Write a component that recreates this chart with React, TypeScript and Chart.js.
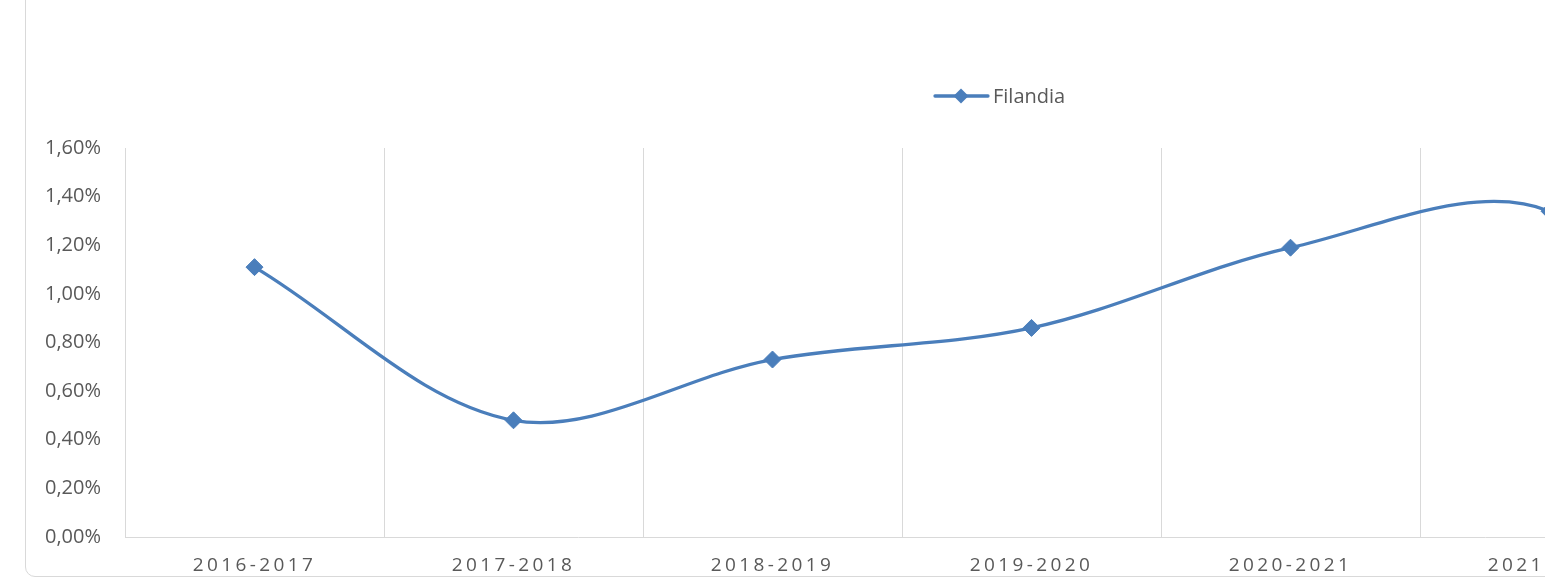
import React, { useEffect, useRef } from 'react';
import { Chart, registerables } from 'chart.js';

Chart.register(...registerables);

// ---- data ----
const categories = ['2016-2017', '2017-2018', '2018-2019', '2019-2020', '2020-2021', '2021-2022', '2022-2023'];
const seriesName = 'Filandia';
const seriesValues = [1.11, 0.48, 0.73, 0.86, 1.19, 1.34, 0.32];
const yTickValues = [0, 0.2, 0.4, 0.6, 0.8, 1.0, 1.2, 1.4, 1.6];

// ---- style ----
const FONT = "'Open Sans', 'Noto Sans', sans-serif";
const TEXT = '#595959';
const GRID = '#d9d9d9';
const LINE = '#4a7ebb';

const CANVAS_W = 1950;
const CANVAS_H = 605;

const fmtPct = (v: number) => v.toFixed(2).replace('.', ',') + '%';

const xLabelPlugin = {
  id: 'xLabels',
  afterDraw(chart: any) {
    const ctx = chart.ctx as CanvasRenderingContext2D;
    const xs = chart.scales.x;
    ctx.save();
    ctx.font = `19px ${FONT}`;
    ctx.fillStyle = TEXT;
    ctx.textAlign = 'center';
    ctx.textBaseline = 'alphabetic';
    (ctx as any).letterSpacing = '3.4px';
    categories.forEach((c, i) => {
      ctx.fillText(c, xs.getPixelForValue(i), chart.chartArea.bottom + 34);
    });
    ctx.restore();
  },
};

const legendPlugin = {
  id: 'customLegend',
  afterDraw(chart: any) {
    const ctx = chart.ctx as CanvasRenderingContext2D;
    const y = 125;
    ctx.save();
    ctx.strokeStyle = LINE;
    ctx.lineWidth = 3.3;
    ctx.lineCap = 'round';
    ctx.beginPath();
    ctx.moveTo(909, y);
    ctx.lineTo(962, y);
    ctx.stroke();
    const cx = 935;
    const r = 7.5;
    ctx.fillStyle = LINE;
    ctx.beginPath();
    ctx.moveTo(cx, y - r);
    ctx.lineTo(cx + r, y);
    ctx.lineTo(cx, y + r);
    ctx.lineTo(cx - r, y);
    ctx.closePath();
    ctx.fill();
    ctx.font = `20px ${FONT}`;
    ctx.fillStyle = TEXT;
    ctx.textAlign = 'left';
    ctx.textBaseline = 'alphabetic';
    ctx.fillText(seriesName, 967, 132);
    ctx.restore();
  },
};

export default function App() {
  const ref = useRef<HTMLCanvasElement>(null);

  useEffect(() => {
    if (!ref.current) return;
    const chart = new Chart(ref.current, {
      type: 'line',
      data: {
        labels: categories,
        datasets: [
          {
            label: seriesName,
            data: seriesValues,
            borderColor: LINE,
            backgroundColor: LINE,
            borderWidth: 3.3,
            tension: 0.34,
            pointStyle: 'rectRot',
            pointRadius: 8.5,
            pointBorderWidth: 1,
            pointBackgroundColor: LINE,
            pointBorderColor: LINE,
            fill: false,
          },
        ],
      },
      options: {
        animation: false,
        responsive: false,
        devicePixelRatio: 1,
        layout: { padding: { left: 0, top: 177, right: 38, bottom: 0 } },
        plugins: {
          legend: { display: false },
          title: { display: false },
          tooltip: { enabled: false },
        },
        scales: {
          x: {
            type: 'category',
            offset: true,
            grid: { display: true, offset: true, color: GRID, lineWidth: 1, drawTicks: false },
            border: { display: true, color: GRID, width: 1 },
            ticks: { display: false },
            afterFit(scale: any) {
              scale.height = 39;
            },
          },
          y: {
            min: 0,
            max: 1.6,
            grid: { display: false, drawTicks: false },
            border: { display: false },
            afterBuildTicks(scale: any) {
              scale.ticks = yTickValues.map((v) => ({ value: v }));
            },
            ticks: {
              padding: 24,
              color: TEXT,
              font: { family: FONT, size: 20 },
              callback: (v: any) => fmtPct(Number(v)),
            },
            afterFit(scale: any) {
              scale.width = 99;
            },
          },
        },
      },
      plugins: [xLabelPlugin, legendPlugin],
    });
    return () => chart.destroy();
  }, []);

  return (
    <div
      style={{
        position: 'fixed',
        left: 0,
        top: 0,
        width: 1545,
        height: 578,
        overflow: 'hidden',
        background: '#ffffff',
      }}
    >
      <div
        style={{
          position: 'absolute',
          left: 25,
          top: -30,
          width: 1952,
          height: 607,
          border: `1px solid ${GRID}`,
          borderRadius: 10,
          boxSizing: 'border-box',
        }}
      />
      <canvas
        ref={ref}
        width={CANVAS_W}
        height={CANVAS_H}
        style={{ position: 'absolute', left: 26, top: -29, width: CANVAS_W, height: CANVAS_H }}
      />
    </div>
  );
}
